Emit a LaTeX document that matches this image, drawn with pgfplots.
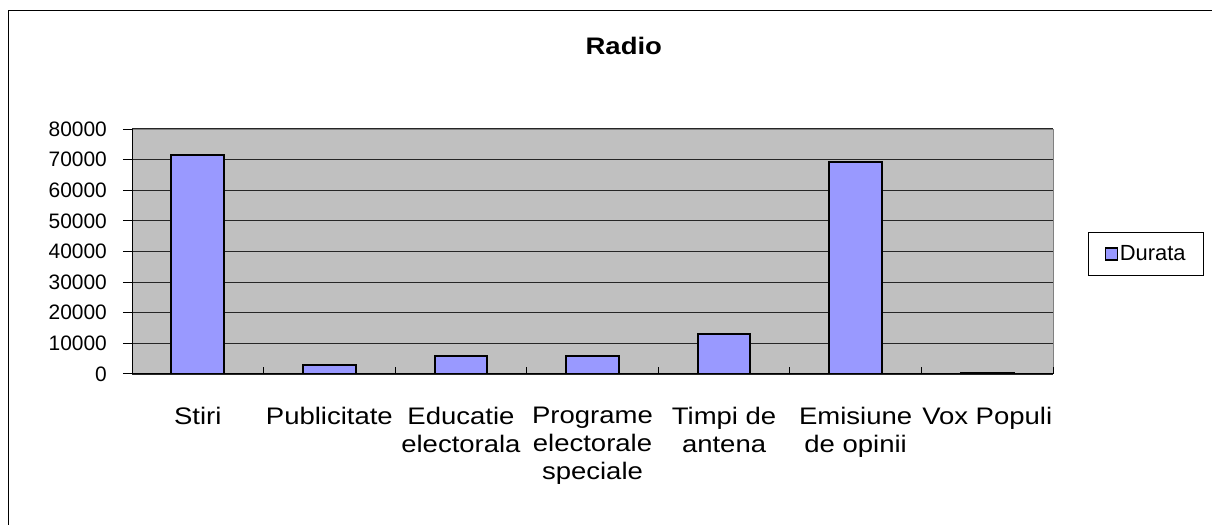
\documentclass[border=0pt]{standalone}
\usepackage{pgfplots}
\pgfplotsset{compat=1.18}
\usepackage{fontspec}
\setmainfont{Liberation Sans}
\newfontfamily\catfont[FakeStretch=1.15]{Liberation Sans}
\definecolor{barblue}{HTML}{9999FF}
\definecolor{plotgray}{HTML}{C0C0C0}
\definecolor{framegray}{HTML}{808080}
\begin{document}
\begin{tikzpicture}
\useasboundingbox (0bp,0bp) rectangle (1212bp,525bp);
\draw[black, line width=1bp] (8bp,-20bp) -- (8bp,514bp) -- (1240bp,514bp);
\begin{axis}[
  at={(132bp,151bp)}, anchor=south west,
  scale only axis, width=921bp, height=245bp,
  xmin=-0.5, xmax=6.5, ymin=0, ymax=80000,
  axis background/.style={fill=plotgray},
  axis line style={framegray, line width=1bp},
  ymajorgrids, major grid style={black!85, line width=1.1bp},
  ytick={0,10000,...,80000},
  scaled y ticks=false,
  /pgf/number format/1000 sep={},
  /pgf/number format/assume math mode=true,
  tick pos=left,
  tick align=outside, major tick length=9bp,
  ytick style={black, line width=1bp},
  yticklabel style={font=\fontsize{21}{25}\selectfont, inner sep=0pt, xshift=-16bp},
  xtick={0,...,6},
  xticklabels={Stiri, Publicitate, {Educatie\\electorala}, {Programe\\electorale\\speciale}, {Timpi de\\antena}, {Emisiune\\de opinii}, Vox Populi},
  major x tick style={draw=none},
  xticklabel style={font=\catfont\fontsize{24}{28}\selectfont, align=center, anchor=north, inner sep=0pt, yshift=-24bp},
  extra x ticks={0.5,1.5,2.5,3.5,4.5,5.5,6.5},
  extra x tick labels={},
  extra x tick style={tick pos=left, tick align=inside, major tick length=7bp, major x tick style={draw=black, line width=1bp}},
  title={Radio},
  title style={font=\catfont\bfseries\fontsize{24}{28}\selectfont, at={(0.534,1.314)}, anchor=center},
  legend style={at={(1.038,0.49)}, anchor=west, draw=black, line width=1bp, fill=white,
    font=\fontsize{22}{26}\selectfont, inner xsep=16bp, inner ysep=11bp},
]
\addplot[ybar, bar width=0.4, bar shift=0pt, fill=barblue, draw=black, line width=2bp,
  legend image code/.code={\draw[fill=barblue, draw=black, line width=1.3bp] (0bp,-6bp) rectangle (12bp,6bp);}]
  coordinates {(0,71600) (1,3000) (2,5900) (3,5900) (4,13200) (5,69100) (6,400)};
\addlegendentry{Durata}
\draw[black, line width=1.3bp] (rel axis cs:0,1) -- (rel axis cs:0,0) -- (rel axis cs:1,0);
\end{axis}
\end{tikzpicture}
\end{document}
